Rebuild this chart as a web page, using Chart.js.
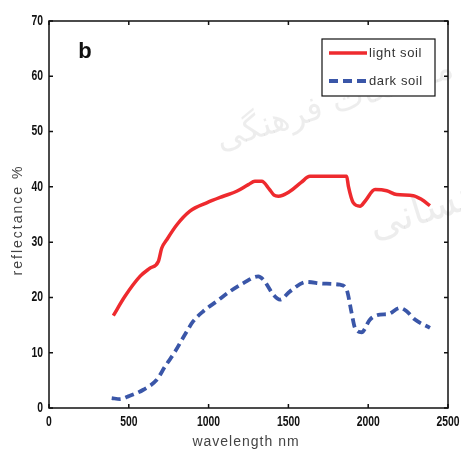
<!DOCTYPE html>
<html>
<head>
<meta charset="utf-8">
<script src="https://cdn.jsdelivr.net/npm/chart.js@4.4.1/dist/chart.umd.min.js"></script>
<style>
  html, body { margin: 0; padding: 0; background: #fff; }
  #wrap { width: 461px; height: 452px; position: relative; }
</style>
</head>
<body>
<div id="wrap"><canvas id="c" width="461" height="452"></canvas></div>
<script>
// Reflectance spectra of two soils (wavelength in nm, reflectance in %)
const lightWavelength = [403, 476, 570, 633, 685, 706, 737, 800, 883, 988, 1092, 1176, 1249, 1290, 1333, 1380, 1410, 1437, 1510, 1580, 1635, 1750, 1865, 1876, 1907, 1949, 1980, 2043, 2116, 2178, 2283, 2335, 2387];
const lightReflectance = [16.7, 20.2, 23.8, 25.3, 26.5, 28.9, 30.4, 33.1, 35.6, 37.1, 38.3, 39.2, 40.4, 41.0, 41.0, 39.6, 38.5, 38.3, 39.2, 40.8, 41.9, 41.9, 41.9, 40.1, 37.1, 36.5, 37.4, 39.5, 39.3, 38.6, 38.4, 37.7, 36.6];

const darkWavelength = [393, 445, 497, 591, 675, 727, 790, 852, 904, 967, 1051, 1134, 1218, 1311, 1343, 1406, 1447, 1510, 1615, 1719, 1823, 1865, 1896, 1917, 1959, 2011, 2074, 2126, 2199, 2241, 2293, 2387];
const darkReflectance = [1.8, 1.6, 2.1, 3.3, 5.1, 7.5, 10.2, 13.3, 15.7, 17.5, 19.3, 21.1, 22.6, 23.8, 23.2, 20.5, 19.6, 21.1, 22.8, 22.5, 22.3, 21.4, 17.2, 14.5, 13.7, 16.0, 16.9, 17.0, 18.1, 17.5, 16.0, 14.5];

const xTicks = [0, 500, 1000, 1500, 2000, 2500];
const yTicks = [0, 10, 20, 30, 40, 50, 60, 70];

const seriesLabels = ['light soil', 'dark soil'];
const panelLetter = 'b';
const xTitle = 'wavelength nm';
const yTitle = 'reflectance %';

const RED = '#ee2a2e';
const BLUE = '#3a56a8';
const textFont = "'Liberation Sans', Arial, sans-serif";
const tickFontCss = "bold 14px " + textFont;
const tickSqueeze = 0.74; // narrow numerals

const toPoints = (xs, ys) => xs.map((x, i) => ({ x, y: ys[i] }));

function faintText(ctx, text, x, y, size, angle) {
  ctx.save();
  ctx.fillStyle = 'rgba(0,0,0,0.07)';
  ctx.font = size + "px 'DejaVu Sans'";
  ctx.textAlign = 'center';
  ctx.textBaseline = 'middle';
  ctx.translate(x, y);
  ctx.rotate(angle);
  ctx.fillText(text, 0, 0);
  ctx.restore();
}

function narrowLabel(ctx, text, x, y, align) {
  ctx.save();
  ctx.translate(x, y);
  ctx.scale(tickSqueeze, 1);
  ctx.textAlign = align;
  ctx.fillText(text, 0, 0);
  ctx.restore();
}

// Faint background lettering, box frame with inward ticks, tick labels, titles, panel letter and legend
const decorations = {
  id: 'decorations',
  beforeDatasetsDraw(chart) {
    const ctx = chart.ctx;
    faintText(ctx, 'مطالعات فرهنگی', 335, 105, 34, -0.3);
    faintText(ctx, 'انسانی', 425, 212, 40, -0.3);
  },
  afterDraw(chart) {
    const ctx = chart.ctx;
    const a = chart.chartArea;
    const xs = chart.scales.x, ys = chart.scales.y;
    ctx.save();
    ctx.strokeStyle = '#111';
    ctx.lineWidth = 1.5;
    ctx.strokeRect(a.left, a.top, a.right - a.left, a.bottom - a.top);
    ctx.beginPath();
    xTicks.forEach(v => {
      const px = xs.getPixelForValue(v);
      ctx.moveTo(px, a.bottom); ctx.lineTo(px, a.bottom - 4);
      ctx.moveTo(px, a.top); ctx.lineTo(px, a.top + 4);
    });
    yTicks.forEach(v => {
      const py = ys.getPixelForValue(v);
      ctx.moveTo(a.left, py); ctx.lineTo(a.left + 4, py);
      ctx.moveTo(a.right, py); ctx.lineTo(a.right - 4, py);
    });
    ctx.stroke();

    // tick labels
    ctx.fillStyle = '#111';
    ctx.font = tickFontCss;
    ctx.textBaseline = 'middle';
    xTicks.forEach(v => narrowLabel(ctx, String(v), xs.getPixelForValue(v), a.bottom + 14, 'center'));
    yTicks.forEach(v => narrowLabel(ctx, String(v), a.left - 6, ys.getPixelForValue(v), 'right'));

    // axis titles
    ctx.fillStyle = '#444';
    ctx.font = "14px " + textFont;
    ctx.letterSpacing = '1px';
    ctx.textAlign = 'center';
    ctx.textBaseline = 'middle';
    ctx.fillText(xTitle, 246, 442);
    ctx.save();
    ctx.translate(18, 220);
    ctx.rotate(-Math.PI / 2);
    ctx.letterSpacing = '2px';
    ctx.fillText(yTitle, 0, 0);
    ctx.restore();
    ctx.letterSpacing = '0px';

    // panel letter
    ctx.fillStyle = '#111';
    ctx.font = "bold 22px " + textFont;
    ctx.fillText(panelLetter, 85, 52);

    // legend
    const lx = 322, ly = 39, lw = 113, lh = 57;
    ctx.fillStyle = '#fff';
    ctx.fillRect(lx, ly, lw, lh);
    ctx.strokeStyle = '#111';
    ctx.lineWidth = 1.2;
    ctx.strokeRect(lx, ly, lw, lh);
    ctx.font = "13px " + textFont;
    ctx.letterSpacing = '0.6px';
    ctx.textAlign = 'left';
    chart.data.datasets.forEach((ds, i) => {
      const y = ly + 14 + i * 28;
      ctx.save();
      ctx.strokeStyle = ds.borderColor;
      ctx.lineWidth = ds.borderWidth;
      ctx.setLineDash(ds.borderDash || []);
      ctx.beginPath();
      ctx.moveTo(329, y); ctx.lineTo(367, y);
      ctx.stroke();
      ctx.restore();
      ctx.fillStyle = '#333';
      ctx.fillText(ds.label, 369, y);
    });
    ctx.restore();
  }
};

new Chart(document.getElementById('c'), {
  type: 'line',
  data: {
    datasets: [
      {
        label: seriesLabels[0],
        data: toPoints(lightWavelength, lightReflectance),
        borderColor: RED,
        borderWidth: 3.5,
        pointRadius: 0,
        tension: 0.3,
        cubicInterpolationMode: 'monotone',
        fill: false
      },
      {
        label: seriesLabels[1],
        data: toPoints(darkWavelength, darkReflectance),
        borderColor: BLUE,
        borderWidth: 3.8,
        borderDash: [9, 5],
        pointRadius: 0,
        tension: 0.3,
        cubicInterpolationMode: 'monotone',
        fill: false
      }
    ]
  },
  options: {
    responsive: false,
    animation: false,
    devicePixelRatio: 1,
    layout: { padding: { top: 21, right: 13, left: 0, bottom: 0 } },
    plugins: {
      legend: { display: false },
      tooltip: { enabled: false }
    },
    scales: {
      x: {
        type: 'linear',
        min: 0, max: 2500,
        afterBuildTicks: s => { s.ticks = xTicks.map(v => ({ value: v })); },
        afterFit: s => { s.height = 44; s.paddingLeft = 0; s.paddingRight = 0; },
        grid: { display: false, drawTicks: false },
        border: { display: false },
        ticks: { display: false },
        title: { display: false }
      },
      y: {
        min: 0, max: 70,
        afterBuildTicks: s => { s.ticks = yTicks.map(v => ({ value: v })); },
        afterFit: s => { s.width = 49; s.paddingTop = 0; s.paddingBottom = 0; },
        grid: { display: false, drawTicks: false },
        border: { display: false },
        ticks: { display: false },
        title: { display: false }
      }
    }
  },
  plugins: [decorations]
});
</script>
</body>
</html>
